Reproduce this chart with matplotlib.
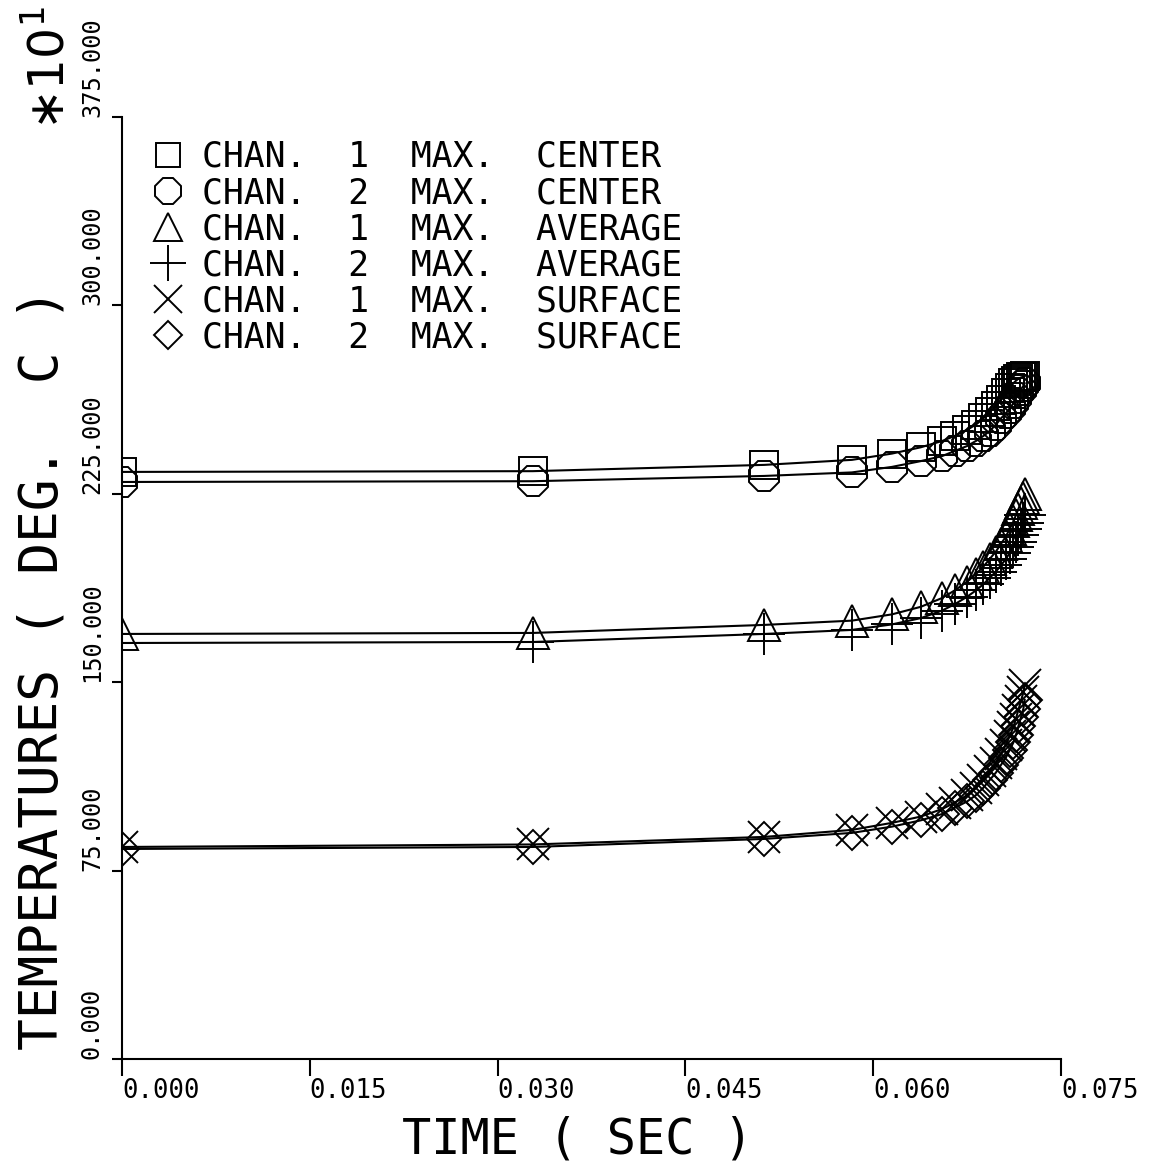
import matplotlib
matplotlib.use("Agg")
import matplotlib.pyplot as plt

# ---------------------------------------------------------------
# Data (temperatures in units of 10 deg C)
# ---------------------------------------------------------------
time_s = [0.0, 0.0328, 0.0513, 0.0583, 0.0615, 0.0638, 0.0655, 0.0665,
          0.0675, 0.0682, 0.0688, 0.0693, 0.0698, 0.0702, 0.0706, 0.0709,
          0.0712, 0.0714, 0.0716, 0.0718, 0.0720, 0.0721]

chan1_center = [233.7, 234.0, 236.5, 238.5, 241.0, 243.5, 246.0, 248.0,
                250.5, 252.5, 255.0, 257.5, 260.0, 262.5, 265.0, 267.0,
                269.0, 270.0, 270.8, 271.3, 271.6, 271.8]
chan2_center = [229.7, 230.0, 232.1, 233.5, 235.7, 238.0, 240.0, 242.0,
                244.0, 246.0, 248.0, 250.0, 252.5, 255.0, 257.0, 259.0,
                261.0, 263.0, 265.0, 266.5, 268.0, 269.0]
chan1_average = [169.2, 169.6, 172.8, 174.5, 177.0, 180.0, 183.5, 186.5,
                 190.0, 193.0, 196.0, 199.0, 202.0, 205.0, 208.0, 211.0,
                 214.0, 216.5, 219.0, 221.5, 223.5, 225.0]
chan2_average = [165.6, 166.0, 169.2, 170.8, 173.0, 175.5, 178.5, 181.0,
                 184.0, 186.5, 189.0, 191.5, 194.0, 196.5, 199.0, 201.5,
                 204.0, 206.0, 208.5, 211.0, 213.5, 216.5]
chan1_surface = [84.4, 85.4, 88.4, 91.2, 94.0, 96.5, 99.5, 102.0,
                 105.0, 108.0, 111.0, 114.5, 118.0, 121.5, 125.0, 128.5,
                 132.0, 135.5, 139.0, 142.5, 146.0, 149.0]
chan2_surface = [83.6, 84.4, 87.6, 90.0, 92.5, 95.0, 97.5, 100.0,
                 102.5, 105.0, 108.0, 111.0, 114.0, 117.0, 120.0, 123.0,
                 126.0, 129.0, 132.5, 136.0, 139.5, 143.0]

labels = ["CHAN.  1  MAX.  CENTER", "CHAN.  2  MAX.  CENTER",
          "CHAN.  1  MAX.  AVERAGE", "CHAN.  2  MAX.  AVERAGE",
          "CHAN.  1  MAX.  SURFACE", "CHAN.  2  MAX.  SURFACE"]

x_ticks = [0.0, 0.015, 0.030, 0.045, 0.060, 0.075]
x_tick_labels = ["0.000", "0.015", "0.030", "0.045", "0.060", "0.075"]
y_ticks = [0, 75, 150, 225, 300, 375]
y_tick_labels = ["0.000", "75.000", "150.000", "225.000", "300.000", "375.000"]

# ---------------------------------------------------------------
# Plot
# ---------------------------------------------------------------
plt.rcParams["font.family"] = ["DejaVu Sans Mono", "DejaVu Sans"]
plt.rcParams["mathtext.fontset"] = "dejavusans"

fig = plt.figure(figsize=(11.49, 11.65), dpi=100)
ax = fig.add_axes([0.1062, 0.0910, 0.8172, 0.8086])

series = [
    (chan1_center, "s", 20),
    (chan2_center, "8", 24),
    (chan1_average, "^", 23),
    (chan2_average, "+", 30),
    (chan1_surface, "x", 23),
    (chan2_surface, "D", 17),
]

for (vals, mk, ms), lab in zip(series, labels):
    ax.plot(time_s, vals, color="black", lw=1.5)
    ax.plot(time_s, vals, linestyle="none", marker=mk, ms=ms,
            mfc="none", mec="black", mew=1.4, label=lab)

ax.set_xlim(0, 0.075)
ax.set_ylim(0, 375)
for side in ("top", "right"):
    ax.spines[side].set_visible(False)
for side in ("left", "bottom"):
    ax.spines[side].set_linewidth(1.5)

ax.set_xticks(x_ticks)
ax.set_xticklabels(x_tick_labels, ha="left", fontsize=18.5)
ax.tick_params(axis="x", direction="out", length=12, width=1.5, pad=2)
ax.set_yticks(y_ticks)
ax.set_yticklabels(y_tick_labels, rotation=90, va="bottom", ha="right",
                   fontsize=17)
ax.tick_params(axis="y", direction="out", length=7, width=1.5, pad=6)

leg = ax.legend(loc="upper left", bbox_to_anchor=(0.030, 0.9756),
                frameon=False, fontsize=25, handlelength=1.0,
                handletextpad=0.5, labelspacing=0.06, borderpad=0,
                borderaxespad=0, markerscale=0.85)

fig.text(0.0366, 0.0987, "TEMPERATURES ( DEG.  C )", rotation=90,
         ha="center", va="bottom", fontsize=38)
fig.text(0.0435, 0.8885, r"$\ast10^{1}$", rotation=90,
         ha="center", va="bottom", fontsize=35)
fig.text(0.503, 0.0215, "TIME ( SEC )", ha="center", va="center",
         fontsize=35)

fig.savefig("out.png", dpi=100)
plt.close(fig)
